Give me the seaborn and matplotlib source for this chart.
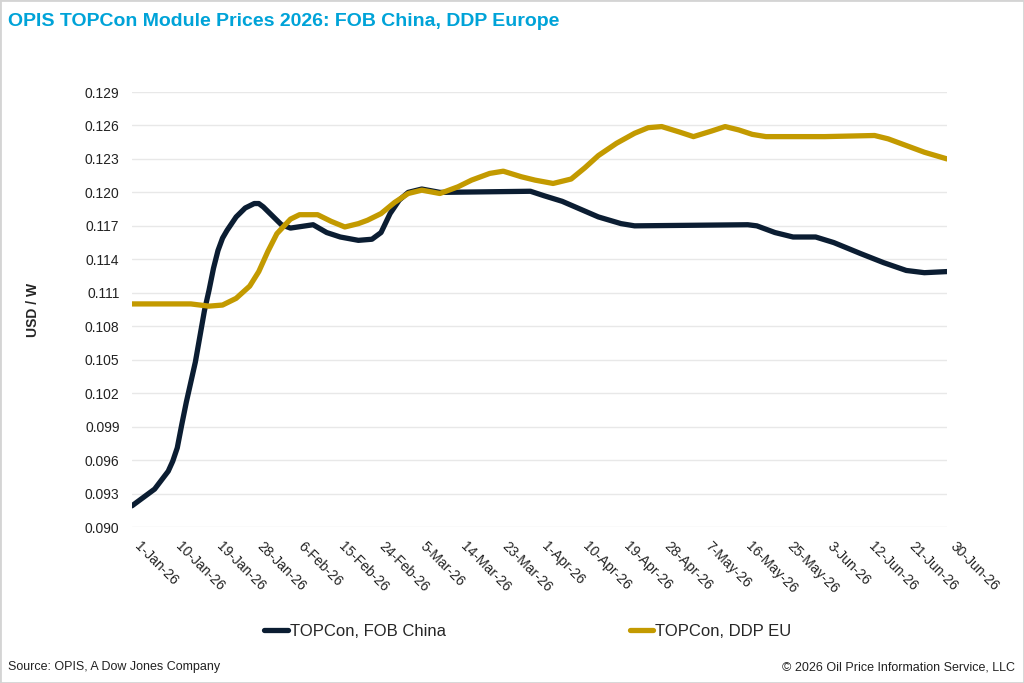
"""
OPIS TOPCon module prices 2026: FOB China vs DDP Europe
"""

import pandas as pd
import seaborn as sns
import matplotlib.pyplot as plt
from matplotlib.patches import Rectangle

# FOB China
fob_dates = ['2026-01-01', '2026-01-06', '2026-01-09', '2026-01-10', '2026-01-11',
             '2026-01-12', '2026-01-13', '2026-01-14', '2026-01-15', '2026-01-16',
             '2026-01-17', '2026-01-18', '2026-01-19', '2026-01-20', '2026-01-21',
             '2026-01-22', '2026-01-24', '2026-01-26', '2026-01-28', '2026-01-29',
             '2026-01-30', '2026-02-01', '2026-02-03', '2026-02-05', '2026-02-10',
             '2026-02-13', '2026-02-16', '2026-02-20', '2026-02-23', '2026-02-25',
             '2026-02-27', '2026-03-01', '2026-03-03', '2026-03-06', '2026-03-10',
             '2026-03-30', '2026-04-02', '2026-04-06', '2026-04-10', '2026-04-14',
             '2026-04-19', '2026-04-22', '2026-05-17', '2026-05-19', '2026-05-23',
             '2026-05-27', '2026-06-01', '2026-06-05', '2026-06-11', '2026-06-16',
             '2026-06-21', '2026-06-25', '2026-06-30']
fob_prices = [0.0919, 0.0934, 0.0950, 0.0959, 0.0971,
              0.0992, 0.1012, 0.1030, 0.1048, 0.1071,
              0.1094, 0.1112, 0.1132, 0.1148, 0.1159,
              0.1166, 0.1178, 0.1186, 0.1190, 0.1190,
              0.1187, 0.1179, 0.1171, 0.1168, 0.1171,
              0.1164, 0.1160, 0.1157, 0.1158, 0.1164,
              0.1181, 0.1193, 0.1200, 0.1203, 0.1200,
              0.1201, 0.1197, 0.1192, 0.1185, 0.1178,
              0.1172, 0.1170, 0.1171, 0.1170, 0.1164,
              0.1160, 0.1160, 0.1155, 0.1145, 0.1137,
              0.1130, 0.1128, 0.1129]

# DDP EU
ddp_dates = ['2026-01-01', '2026-01-14', '2026-01-18', '2026-01-21', '2026-01-24',
             '2026-01-27', '2026-01-29', '2026-01-31', '2026-02-02', '2026-02-05',
             '2026-02-07', '2026-02-11', '2026-02-14', '2026-02-17', '2026-02-20',
             '2026-02-22', '2026-02-25', '2026-02-28', '2026-03-03', '2026-03-06',
             '2026-03-10', '2026-03-14', '2026-03-17', '2026-03-21', '2026-03-24',
             '2026-03-28', '2026-03-31', '2026-04-04', '2026-04-08', '2026-04-11',
             '2026-04-14', '2026-04-18', '2026-04-22', '2026-04-25', '2026-04-28',
             '2026-05-02', '2026-05-05', '2026-05-09', '2026-05-12', '2026-05-15',
             '2026-05-18', '2026-05-21', '2026-06-03', '2026-06-14', '2026-06-17',
             '2026-06-21', '2026-06-25', '2026-06-30']
ddp_prices = [0.1100, 0.1100, 0.1098, 0.1099, 0.1105,
              0.1116, 0.1129, 0.1147, 0.1163, 0.1176,
              0.1180, 0.1180, 0.1174, 0.1169, 0.1172,
              0.1175, 0.1181, 0.1191, 0.1199, 0.1202,
              0.1199, 0.1205, 0.1211, 0.1217, 0.1219,
              0.1214, 0.1211, 0.1208, 0.1212, 0.1222,
              0.1233, 0.1244, 0.1253, 0.1258, 0.1259,
              0.1254, 0.1250, 0.1255, 0.1259, 0.1256,
              0.1252, 0.1250, 0.1250, 0.1251, 0.1248,
              0.1242, 0.1236, 0.1230]

series_names = ['TOPCon, FOB China', 'TOPCon, DDP EU']
series_colors = ['#0b1d32', '#c39a00']

y_ticks = [0.090, 0.093, 0.096, 0.099, 0.102, 0.105, 0.108,
           0.111, 0.114, 0.117, 0.120, 0.123, 0.126, 0.129]


def main():
    df = pd.concat([
        pd.DataFrame({'date': pd.to_datetime(fob_dates), 'price': fob_prices,
                      'series': series_names[0]}),
        pd.DataFrame({'date': pd.to_datetime(ddp_dates), 'price': ddp_prices,
                      'series': series_names[1]}),
    ], ignore_index=True)

    sns.set_style('white')
    plt.rcParams['font.family'] = ['Liberation Sans', 'DejaVu Sans']

    fig = plt.figure(figsize=(10.24, 6.83), dpi=100)
    ax = fig.add_axes([132 / 1024, 1 - 527 / 683, 815 / 1024, 435 / 683])

    sns.lineplot(data=df, x='date', y='price', hue='series', hue_order=series_names,
                 palette=dict(zip(series_names, series_colors)), estimator=None,
                 linewidth=3.8, ax=ax, legend=False)
    for line in ax.get_lines():
        line.set_solid_capstyle('round')
        line.set_solid_joinstyle('round')

    # axes
    ax.set_xlim(pd.Timestamp('2026-01-01'), pd.Timestamp('2026-06-30'))
    ax.set_ylim(0.090, 0.129)
    ax.set_yticks(y_ticks)
    ax.set_yticklabels([f'{v:.3f}' for v in y_ticks], fontsize=10, color='#222222')
    xt = pd.date_range('2026-01-01', '2026-06-30', freq='9D')
    ax.set_xticks(xt)
    ax.set_xticklabels([f"{d.day}-{d.strftime('%b')}-{d.strftime('%y')}" for d in xt],
                       rotation=-45, ha='left', va='top', rotation_mode='default',
                       fontsize=10, color='#222222')
    ax.tick_params(axis='both', length=0)
    ax.tick_params(axis='x', pad=9)
    ax.tick_params(axis='y', pad=9)
    ax.yaxis.grid(True, color='#e8e8e8', linewidth=1)
    ax.xaxis.grid(False)
    for s in ax.spines.values():
        s.set_visible(False)
    ax.set_xlabel('')
    ax.set_ylabel('USD / W', fontsize=10, fontweight='bold', labelpad=32)

    # legend
    ax.legend(ax.get_lines(), series_names, loc='center',
              bbox_to_anchor=(0.5 + 16 / 1024, 1 - 631 / 683),
              bbox_transform=fig.transFigure, ncol=2, frameon=False, fontsize=12,
              handlelength=1.4, handletextpad=0.15, columnspacing=11)

    # title and footer
    fig.text(8 / 1024, 1 - 21 / 683, 'OPIS TOPCon Module Prices 2026: FOB China, DDP Europe',
             fontsize=14, fontweight='bold', color='#00a3d8', va='center', ha='left')
    fig.text(8 / 1024, 1 - 667 / 683, 'Source: OPIS, A Dow Jones Company',
             fontsize=9, color='#222222', va='center', ha='left')
    fig.text(1015 / 1024, 1 - 667 / 683, '\u00a9 2026 Oil Price Information Service, LLC',
             fontsize=9, color='#222222', va='center', ha='right')

    fig.patches.append(Rectangle((0, 0), 1, 1, transform=fig.transFigure, fill=False,
                                 edgecolor='#d4d4d4', linewidth=2))

    fig.savefig('out.png', dpi=100)


if __name__ == "__main__":
    main()
